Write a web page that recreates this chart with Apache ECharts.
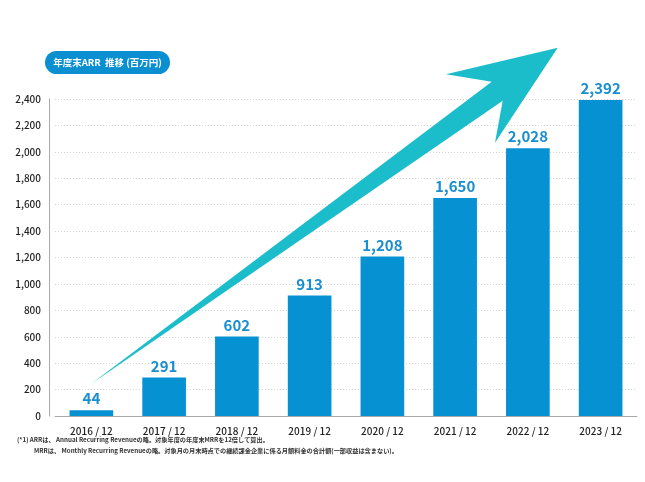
<!DOCTYPE html>
<html>
<head>
<meta charset="utf-8">
<script src="https://cdn.jsdelivr.net/npm/echarts@6/dist/echarts.min.js"></script>
<style>
  html, body { margin: 0; padding: 0; background: #fff; }
  #arr-chart { width: 645px; height: 482px; }
</style>
</head>
<body>
<div id="arr-chart"></div>
<script>
// year-end ARR (million yen)
var categories = ['2016 / 12', '2017 / 12', '2018 / 12', '2019 / 12', '2020 / 12', '2021 / 12', '2022 / 12', '2023 / 12'];
var arrValues = [44, 291, 602, 913, 1208, 1650, 2028, 2392];
var yTicks = [0, 200, 400, 600, 800, 1000, 1200, 1400, 1600, 1800, 2000, 2200, 2400];

var titleText = '年度末ARR  推移 (百万円)';
var noteLine1 = '(*1) ARRは、 Annual Recurring Revenueの略。対象年度の年度末MRRを12倍して算出。';
var noteLine2 = 'MRRは、 Monthly Recurring Revenueの略。対象月の月末時点での継続課金企業に係る月額料金の合計額(一部収益は含まない)。';

var arr_chartDom = document.getElementById('arr-chart');
var arr_myChart = echarts.init(arr_chartDom);
var arr_option;

var fontJa = '"Noto Sans CJK JP", "Noto Sans", sans-serif';

arr_option = {
  animation: false,
  backgroundColor: '#fff',
  grid: { left: 55, right: 8, top: 99, bottom: 66 },
  xAxis: {
    type: 'category',
    data: categories,
    axisLine: { lineStyle: { color: '#aaa', width: 1 } },
    axisTick: { show: false },
    axisLabel: { color: '#222', fontSize: 10, fontWeight: 500, fontFamily: fontJa, margin: 10 }
  },
  yAxis: {
    type: 'value',
    min: yTicks[0],
    max: yTicks[yTicks.length - 1],
    interval: 200,
    offset: 6,
    axisLine: { show: true, lineStyle: { color: '#aaa', width: 1 } },
    axisTick: { show: false },
    axisLabel: {
      color: '#222', fontSize: 10, fontWeight: 500, fontFamily: fontJa, margin: 8,
      formatter: function (v) { return v.toLocaleString('en-US'); }
    },
    splitLine: { lineStyle: { color: '#d4d4d4', type: [1, 2], width: 1 } }
  },
  series: [
    {
      name: 'ARR',
      type: 'bar',
      barWidth: '60%',
      data: arrValues,
      itemStyle: { color: '#0691d3' },
      label: {
        show: true,
        position: 'top',
        distance: 4,
        color: '#1a8fcf',
        fontSize: 15,
        fontWeight: 'bold',
        fontFamily: fontJa,
        formatter: function (p) { return p.value.toLocaleString('en-US'); }
      }
    }
  ],
  graphic: [
    // trend arrow (decoration)
    {
      type: 'polygon',
      z: 5,
      shape: {
        points: [[91, 384], [491.7, 81.7], [446, 74.3], [557.7, 47.7], [495, 142.7], [502.7, 100.7]]
      },
      style: { fill: '#1bbdca' }
    },
    // title pill
    {
      type: 'rect',
      left: 45, top: 51,
      shape: { width: 125, height: 23, r: 11.5 },
      style: { fill: '#0a8fd0' }
    },
    {
      type: 'text',
      x: 107.5, y: 62.5,
      style: {
        text: titleText, fill: '#fff', font: 'bold 9.5px ' + fontJa,
        align: 'center', verticalAlign: 'middle'
      }
    },
    // notes
    {
      type: 'text',
      left: 17, top: 437,
      style: { text: noteLine1, fill: '#333', font: 'bold 6.2px ' + fontJa }
    },
    {
      type: 'text',
      left: 34, top: 448,
      style: { text: noteLine2, fill: '#333', font: 'bold 6.2px ' + fontJa }
    }
  ]
};

if (arr_option && typeof arr_option === 'object') {
  arr_myChart.setOption(arr_option);
}
</script>
</body>
</html>
